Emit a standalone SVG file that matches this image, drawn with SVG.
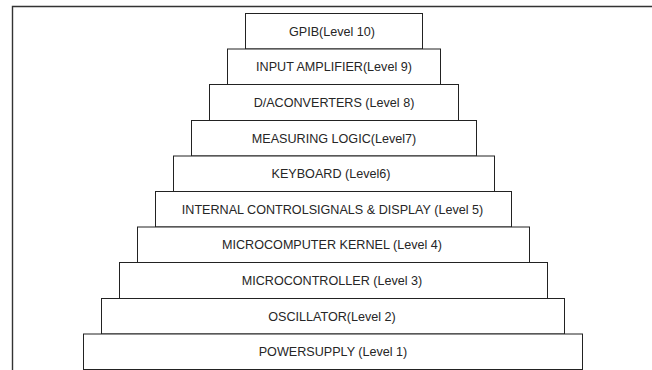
<svg xmlns="http://www.w3.org/2000/svg" width="652" height="370" viewBox="0 0 652 370">
<style>
.box{fill:#ffffff;stroke:#222222;stroke-width:1}
.frame{fill:none;stroke:#333333;stroke-width:1.4}
.lbl{font-family:"Liberation Sans",Arial,sans-serif;font-size:12.6px;fill:#262626;text-anchor:middle}
</style>
<rect width="652" height="370" fill="#ffffff"/>
<g id="frame"><path class="frame" d="M12.5,370 V6.5 H652"/></g>
<g id="connectors"></g>
<g id="level10"><rect class="box" x="245.5" y="13.5" width="177" height="35.5"/><text class="lbl" x="332" y="35.5">GPIB(Level 10)</text></g>
<g id="level9"><rect class="box" x="227.5" y="49" width="213" height="35.5"/><text class="lbl" x="334" y="71">INPUT AMPLIFIER(Level 9)</text></g>
<g id="level8"><rect class="box" x="209.5" y="84.5" width="249" height="36"/><text class="lbl" x="334" y="106.5">D/ACONVERTERS (Level 8)</text></g>
<g id="level7"><rect class="box" x="191.5" y="120.5" width="285" height="35.5"/><text class="lbl" x="334" y="142.5">MEASURING LOGIC(Level7)</text></g>
<g id="level6"><rect class="box" x="173.5" y="156" width="321" height="35.5"/><text class="lbl" x="331" y="178">KEYBOARD (Level6)</text></g>
<g id="level5"><rect class="box" x="155.5" y="191.5" width="356" height="35.5"/><text class="lbl" x="332.5" y="213.5">INTERNAL CONTROLSIGNALS &amp; DISPLAY (Level 5)</text></g>
<g id="level4"><rect class="box" x="137.5" y="227" width="392" height="35.5"/><text class="lbl" x="332" y="249">MICROCOMPUTER KERNEL  (Level 4)</text></g>
<g id="level3"><rect class="box" x="119.5" y="262.5" width="428" height="36"/><text class="lbl" x="332" y="284.5">MICROCONTROLLER  (Level 3)</text></g>
<g id="level2"><rect class="box" x="101.5" y="298.5" width="463" height="35.5"/><text class="lbl" x="332" y="320.5">OSCILLATOR(Level 2)</text></g>
<g id="level1"><rect class="box" x="83.5" y="334" width="499" height="35.5"/><text class="lbl" x="333" y="356">POWERSUPPLY (Level 1)</text></g>
</svg>
